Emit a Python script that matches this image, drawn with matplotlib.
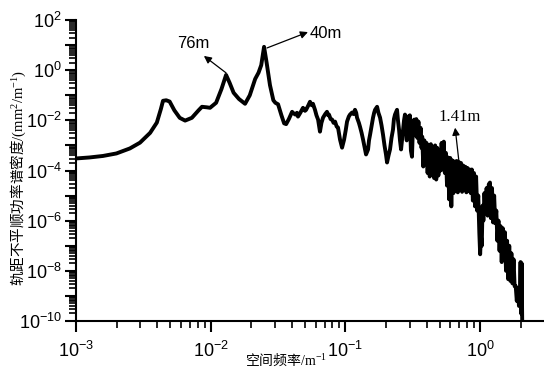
import numpy as np
import matplotlib
matplotlib.use('Agg')
import matplotlib.pyplot as plt
from matplotlib.ticker import FixedLocator, FuncFormatter, LogLocator, NullFormatter

plt.rcParams['font.family'] = ['Noto Sans CJK SC', 'DejaVu Sans']
plt.rcParams['mathtext.fontset'] = 'custom'
plt.rcParams['mathtext.rm'] = 'Liberation Serif'
plt.rcParams['mathtext.it'] = 'Liberation Serif:italic'
plt.rcParams['mathtext.sf'] = 'Liberation Sans'

# 读数: log10(空间频率), log10(功率谱密度)
log_freq = [
    -3.00, -2.90, -2.80, -2.70, -2.60, -2.525, -2.45, -2.40, -2.37, -2.354,
    -2.33, -2.305, -2.27, -2.23, -2.19, -2.14, -2.09, -2.065, -2.03, -2.005,
    -1.96, -1.92, -1.886, -1.86, -1.83, -1.79, -1.745, -1.71, -1.67, -1.645,
    -1.625, -1.604, -1.585, -1.56, -1.535, -1.52, -1.50, -1.475, -1.455, -1.44,
    -1.42, -1.396, -1.385, -1.372, -1.36, -1.352, -1.335, -1.315, -1.30, -1.292,
    -1.275, -1.263, -1.25, -1.241, -1.226, -1.215, -1.203, -1.189, -1.178, -1.166,
    -1.15, -1.137, -1.128, -1.122, -1.11, -1.099, -1.088, -1.077, -1.065, -1.055,
    -1.045, -1.040, -1.025, -1.010, -0.998, -0.988, -0.975, -0.966, -0.951, -0.94,
    -0.929, -0.92, -0.914, -0.90, -0.892, -0.88, -0.869, -0.857, -0.847, -0.832,
    -0.825, -0.817, -0.805, -0.795, -0.787, -0.780, -0.765, -0.755, -0.743, -0.732,
    -0.721, -0.71, -0.699, -0.691, -0.680, -0.669, -0.658, -0.647, -0.640, -0.632,
    -0.617, -0.61, -0.602, -0.595, -0.587, -0.58, -0.572, -0.565, -0.558, -0.545,
    -0.537, -0.53, -0.522, -0.514, -0.506, -0.498, -0.49, -0.482, -0.474, -0.466,
    -0.458, -0.45, -0.442, -0.435,
    -0.430, -0.422, -0.414, -0.406, -0.398, -0.390, -0.382, -0.374, -0.366, -0.358,
    -0.350, -0.342, -0.334, -0.326, -0.318, -0.310, -0.302, -0.294, -0.286, -0.278,
    -0.270, -0.262, -0.254, -0.246, -0.238, -0.230, -0.222, -0.214, -0.206, -0.198,
    -0.190, -0.182, -0.174, -0.166, -0.158, -0.150, -0.142, -0.134, -0.126, -0.118,
    -0.110, -0.102, -0.094, -0.086, -0.078, -0.070, -0.062, -0.054, -0.046, -0.038,
    -0.030, -0.022, -0.014, -0.006, 0.000, 0.006, 0.012, 0.018, 0.024, 0.032,
    0.040, 0.048, 0.056, 0.064, 0.073, 0.080, 0.088, 0.096, 0.104, 0.112,
    0.120, 0.128, 0.136, 0.144, 0.152, 0.160, 0.168, 0.176, 0.184, 0.192,
    0.200, 0.208, 0.216, 0.224, 0.232, 0.240, 0.248, 0.256, 0.264, 0.272,
    0.280, 0.288, 0.296, 0.300, 0.304, 0.308, 0.312,
]
log_psd = [
    -3.52, -3.48, -3.42, -3.32, -3.12, -2.89, -2.50, -2.09, -1.55, -1.22,
    -1.20, -1.25, -1.60, -1.90, -2.01, -1.90, -1.60, -1.46, -1.48, -1.50,
    -1.30, -0.75, -0.19, -0.50, -0.90, -1.15, -1.34, -1.00, -0.35, -0.10,
    0.20, 0.93, 0.30, -0.60, -1.20, -1.30, -1.36, -1.80, -2.12, -2.15,
    -1.95, -1.66, -1.72, -1.77, -1.70, -1.85, -1.70, -1.50, -1.62, -1.58,
    -1.40, -1.26, -1.40, -1.34, -1.58, -1.80, -1.97, -2.45, -2.10, -1.89,
    -1.75, -1.66, -1.80, -1.77, -1.95, -1.97, -2.10, -2.05, -2.25, -2.29,
    -2.60, -2.77, -3.09, -2.77, -2.40, -2.05, -1.85, -1.77, -1.69, -1.75,
    -1.58, -1.70, -1.89, -2.10, -2.25, -2.50, -2.77, -3.10, -3.36, -3.16,
    -2.80, -2.57, -2.20, -1.89, -1.70, -1.58, -1.46, -1.70, -1.89, -2.20,
    -2.57, -3.00, -3.36, -3.68, -3.40, -3.16, -2.70, -2.37, -1.95, -1.77,
    -1.58, -2.00, -2.37, -2.80, -3.16, -2.80, -2.37, -2.00, -1.77, -2.80,
    -1.85, -2.60, -1.80, -3.20, -3.45, -2.10, -1.97, -2.60, -1.95, -2.70,
    -2.05, -2.90, -2.30, -3.10,
    -2.65, -3.84, -2.80, -3.70, -2.90, -4.10, -3.00, -4.24, -2.95, -4.00,
    -3.05, -4.30, -3.00, -4.36, -3.10, -4.20, -3.20, -4.00, -2.90, -3.96,
    -2.85, -4.10, -3.30, -4.60, -3.48, -5.15, -3.50, -5.43, -3.60, -4.90,
    -3.64, -4.80, -3.62, -4.87, -3.66, -4.70, -3.70, -4.85, -3.80, -4.75,
    -3.85, -4.87, -3.90, -4.80, -3.96, -4.90, -3.96, -5.20, -4.10, -5.43,
    -4.24, -5.60, -5.00, -6.50, -7.34, -6.60, -7.00, -5.40, -6.00, -4.90,
    -5.67, -4.70, -5.80, -4.55, -4.48, -5.90, -4.70, -6.07, -5.00, -6.10,
    -5.60, -6.80, -6.00, -7.20, -6.22, -7.65, -6.30, -7.50, -6.46, -8.00,
    -6.80, -8.33, -7.00, -8.40, -7.30, -8.50, -7.54, -8.61, -8.61, -9.20,
    -8.70, -9.40, -8.90, -7.65, -9.70, -7.70, -9.92,
]

freq = 10.0 ** np.array(log_freq)
psd = 10.0 ** np.array(log_psd)

# 标注: 文字, 箭头尾(峰值处), 箭头头, 文字位置, 字体
notes = [
    ('76m', (0.0130, 0.78), (0.0089, 3.7), (0.0074, 12.0), 'Liberation Sans'),
    ('40m', (0.0262, 7.7), (0.0527, 33.0), (0.0546, 30.0), 'Liberation Sans'),
    ('1.41m', (0.697, 2.1e-4), (0.652, 5.1e-3), (0.71, 1.4e-2), 'Liberation Serif'),
]

fig = plt.figure(figsize=(5.44, 3.74), dpi=100)
ax = fig.add_axes([0.1397, 0.1417, 0.8603, 0.8048])

ax.plot(freq, psd, '-', color='black', lw=2.8, solid_joinstyle='round')

ax.set_xscale('log')
ax.set_yscale('log')
ax.set_xlim(1e-3, 10 ** 0.474)
ax.set_ylim(1e-10, 1e2)

ax.spines['top'].set_visible(False)
ax.spines['right'].set_visible(False)
for s in ['left', 'bottom']:
    ax.spines[s].set_linewidth(1.5)

ax.yaxis.set_major_locator(FixedLocator([10.0 ** k for k in range(-10, 3)]))
ax.yaxis.set_minor_locator(LogLocator(base=10, subs=np.arange(2, 10), numticks=30))
ax.yaxis.set_minor_formatter(NullFormatter())


def ylab(v, pos):
    k = int(round(np.log10(v)))
    if k % 2 == 0:
        return r'$\mathsf{10^{%d}}$' % k
    return ''


ax.yaxis.set_major_formatter(FuncFormatter(ylab))
ax.xaxis.set_major_locator(FixedLocator([1e-3, 1e-2, 1e-1, 1e0]))
ax.xaxis.set_minor_locator(LogLocator(base=10, subs=np.arange(2, 10), numticks=30))
ax.xaxis.set_minor_formatter(NullFormatter())
ax.xaxis.set_major_formatter(FuncFormatter(lambda v, p: r'$\mathsf{10^{%d}}$' % int(round(np.log10(v)))))

ax.tick_params(which='major', length=8, width=1.5, labelsize=13, direction='out')
ax.tick_params(which='minor', length=5, width=1.2, direction='out')
ax.tick_params(axis='y', pad=2)
ax.tick_params(axis='x', pad=6)

# 标签
ax.text(-0.124, 0.475, '轨距不平顺功率谱密度' + r'$\mathrm{/(mm^2/m^{-1})}$',
        transform=ax.transAxes, rotation=90, ha='center', va='center', fontsize=10.5)
ax.text(0.449, -0.13, '空间频率' + r'$\mathrm{/m^{-1}}$',
        transform=ax.transAxes, ha='center', va='center', fontsize=10)

for txt, tail, head, pos, fam in notes:
    ax.annotate('', xy=head, xytext=tail,
                arrowprops=dict(arrowstyle='-|>', color='black', lw=0.9,
                                shrinkA=0, shrinkB=0, mutation_scale=11))
    ha = 'left' if txt == '40m' else 'center'
    ax.text(pos[0], pos[1], txt, fontsize=12, ha=ha, va='center', family=[fam])

fig.savefig('out.png', dpi=100)
